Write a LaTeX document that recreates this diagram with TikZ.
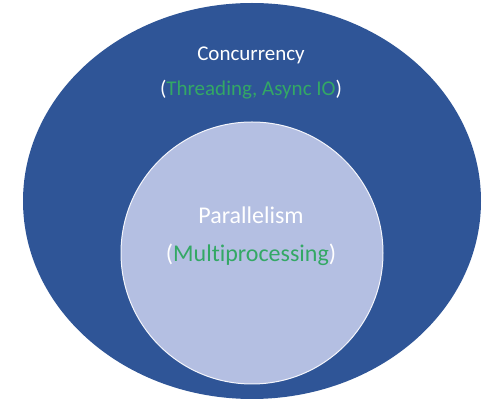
\documentclass[tikz,border=0pt]{standalone}
\usepackage{fontspec}
\setmainfont{Carlito}[Ligatures=NoCommon]
\usetikzlibrary{positioning,shapes.geometric}
\definecolor{ccblue}{HTML}{2F5597}
\definecolor{pplilac}{HTML}{B4BFE2}
\definecolor{txgreen}{HTML}{33A865}

\begin{document}
\begin{tikzpicture}[x=1pt,y=-1pt,
      lbl/.style={text=white,align=center,inner sep=0pt}]
    \useasboundingbox[fill=white] (0,0) rectangle (504,411);
    \node[ellipse,fill=ccblue,minimum width=458pt,minimum height=396pt,inner sep=0pt] (conc) at (252,201) {};
    \node[circle,fill=pplilac,draw=white!85!pplilac,line width=1pt,minimum size=262pt,inner sep=0pt] (par) at (252,253) {};
    \node[lbl,font=\fontsize{21}{25}\selectfont] (conctitle) at (251,55) {Concurrency};
    \node[lbl,font=\fontsize{21}{25}\selectfont,below=16pt of conctitle] (concsub)
      {(\textcolor{txgreen}{Threading, Async IO})};
    \node[lbl,font=\fontsize{24}{29}\selectfont] (partitle) at (251,215) {Parallelism};
    \node[lbl,font=\fontsize{24}{29}\selectfont,below=20pt of partitle] (parsub)
      {(\textcolor{txgreen}{Multiprocessing})};
  \end{tikzpicture}
\end{document}
